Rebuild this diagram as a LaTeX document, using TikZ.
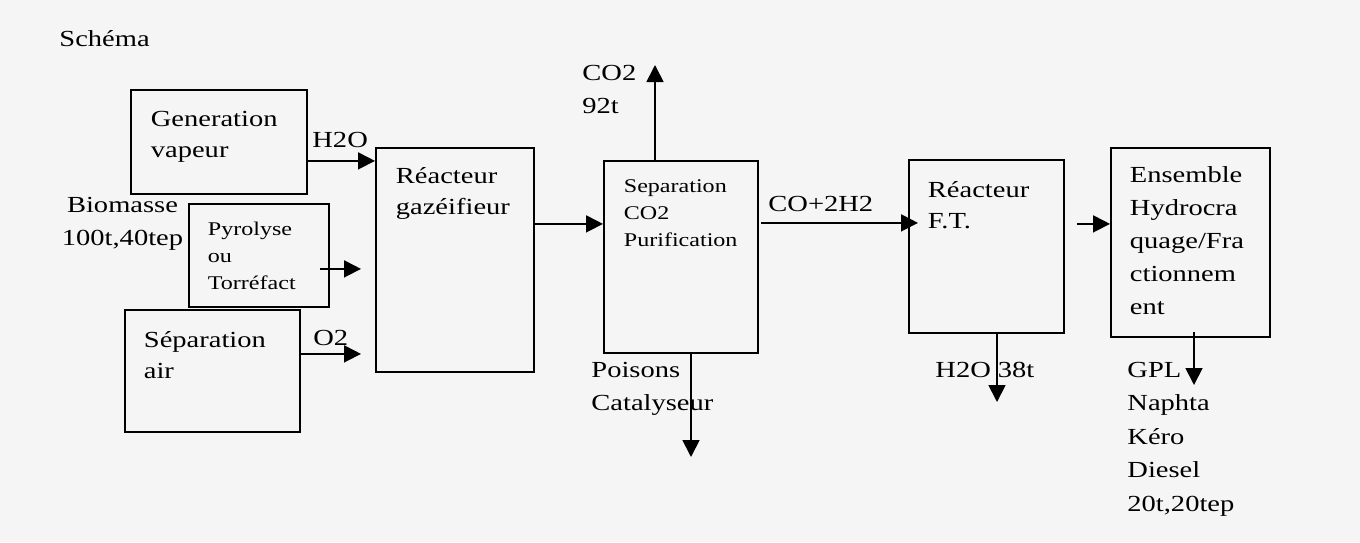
\documentclass[tikz,border=0pt]{standalone}
\usepackage{fontspec}
\setmainfont{Liberation Serif}[FakeStretch=1.24]
\usetikzlibrary{arrows.meta,positioning,calc}
\newcommand{\bigtxt}{\fontsize{11.5}{15.5}\selectfont}
\newcommand{\smalltxt}{\fontsize{9.7}{13.4}\selectfont}
\tikzstyle{unit} = [rectangle, draw, line width=0.9pt, anchor=north west,
inner ysep=0pt, align=left, font=\bigtxt]
\tikzstyle{tag} = [inner sep=0pt, anchor=base west, align=left, font=\bigtxt]
\tikzstyle{flow} = [draw, line width=0.9pt, -{Triangle[length=8.5pt,width=8.5pt]}]

\begin{document}
\begin{tikzpicture}[x=0.5pt, y=-0.5pt]
			\fill [black!4] (0,0) rectangle (1360,542);
			\useasboundingbox (0,0) rectangle (1360,542);
			% Place nodes
			\node [unit, inner xsep=10pt, text width=68pt, text height=18.5pt,
			text depth=33.5pt] (gen) at (130,89) {Generation\\vapeur};
			\node [unit, inner xsep=9.5pt, text width=51pt, text height=16pt,
			text depth=35.5pt, font=\smalltxt] (pyro) at (188,203)
			{Pyrolyse\\ou\\Torréfact};
			\node [unit, inner xsep=9.5pt, text width=68.5pt, text height=19pt,
			text depth=42pt] (sepair) at (124,309) {Séparation\\air};
			\node [unit, inner xsep=10pt, text width=59pt, text height=18pt,
			text depth=94pt] (gaz) at (375,147) {Réacteur\\gazéifieur};
			\node [unit, inner xsep=10pt, text width=57pt, text height=16pt,
			text depth=80pt, font=\smalltxt] (sep) at (603,160)
			{Separation\\CO2\\Purification};
			\node [unit, inner xsep=9.5pt, text width=58.5pt, text height=19pt,
			text depth=67.5pt] (ft) at (908,159) {Réacteur\\F.T.};
			\node [unit, inner xsep=9.5pt, text width=60.5pt, text height=17.5pt,
			text depth=77pt, font=\fontsize{11.5}{16.4}\selectfont] (ens) at (1110,147)
			{Ensemble\\Hydrocra\\quage/Fra\\ctionnem\\ent};
			% Texts
			\node [tag] (schema) at (59,46) {Schéma};
			\node [tag, anchor=base, text width=62pt, align=center,
			font=\fontsize{11.5}{16.8}\selectfont] (biom) at (122.5,212)
			{Biomasse\\100t,40tep};
			\node [tag] (h2oin) at (312,147) {H2O};
			\node [tag] (o2) at (313,345) {O2};
			\node [tag, text width=30pt, font=\fontsize{11.5}{16.5}\selectfont]
			(co2) at (582,80) {CO2\\92t};
			\node [tag] (syngas) at (768,211) {CO+2H2};
			\node [tag, text width=60pt, font=\fontsize{11.5}{16.5}\selectfont]
			(poisons) at (591,377) {Poisons\\Catalyseur};
			\node [tag] (water) at (935,377) {H2O 38t};
			\node [tag, text width=50pt, font=\fontsize{11.5}{16.8}\selectfont]
			(prod) at (1127,377) {GPL\\Naphta\\Kéro\\Diesel\\20t,20tep};
			\coordinate (co2out) at (655,65);
			\coordinate (poisout) at (691,457);
			\coordinate (waterout) at (997,402);
			\coordinate (prodout) at (1194,385);
			% Arrows
			\path [flow] ([yshift=-9.5pt]gen.east) -- ([yshift=-9.5pt]gen.east -| gaz.west);
			\path [flow, shorten <=-5pt, shorten >=7pt] ([yshift=-6.75pt]pyro.east) --
			([yshift=-6.75pt]pyro.east -| gaz.west);
			\path [flow, shorten >=7pt] ([yshift=8.5pt]sepair.east) --
			([yshift=8.5pt]sepair.east -| gaz.west);
			\path [flow] ([yshift=18pt]gaz.east) -- ([yshift=18pt]gaz.east -| sep.west);
			\path [flow] (sep.north -| co2out) -- (co2out);
			\path [flow] (sep.south -| poisout) -- (poisout);
			\path [flow, shorten <=1pt, shorten >=-5pt] ([yshift=17pt]sep.east) --
			([yshift=17pt]sep.east -| ft.west);
			\path [flow, shorten <=6pt] ([yshift=11.25pt]ft.east) --
			([yshift=11.25pt]ft.east -| ens.west);
			\path [flow] (ft.south -| waterout) -- (waterout);
			\path [flow, shorten <=-3pt] (ens.south -| prodout) -- (prodout);
		\end{tikzpicture}
\end{document}
